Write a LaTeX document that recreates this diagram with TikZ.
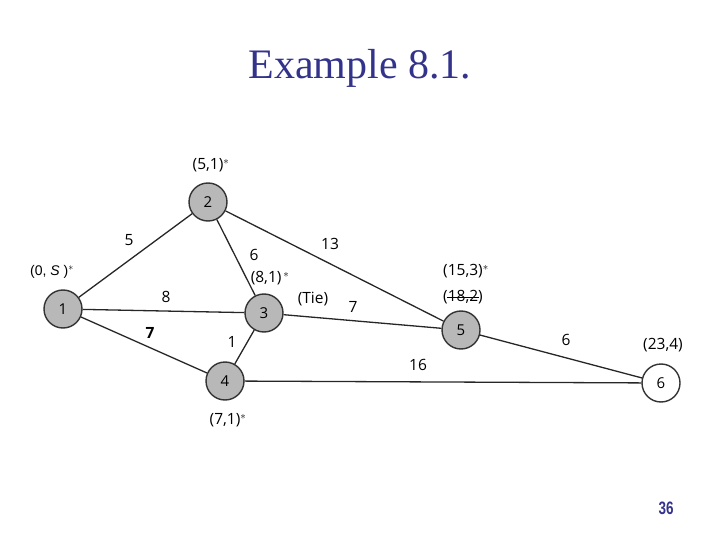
\documentclass[tikz,border=0pt]{standalone}
\usepackage{fontspec}
\setmainfont{Liberation Serif}
\newfontfamily\lab{Open Sans}
\newfontfamily\arl{Liberation Sans}
\definecolor{ttl}{RGB}{51,51,140}
\begin{document}
\begin{tikzpicture}[x=1pt,y=-1pt,
  vert/.style={circle,draw=black!80,line width=1.4pt,fill=black!28,minimum size=38pt,inner sep=0pt,font=\lab\fontsize{15}{15}\selectfont},
  vwhite/.style={vert,fill=white},
  edge/.style={line width=1.3pt,black!85},
  lbl/.style={font=\lab\fontsize{15.5}{15.5}\selectfont,inner sep=0pt}]
\useasboundingbox (0,0) rectangle (720,540);
\node[font=\fontsize{42}{42}\selectfont,text=ttl] (title) at (360,68) {Example 8.1.};
\node[vert] (n1) at (63,309) {1};
\node[vert] (n2) at (208,202) {2};
\node[vert] (n3) at (264,313) {3};
\node[vert] (n4) at (225,381) {4};
\node[vert] (n5) at (461,330) {5};
\node[vwhite] (n6) at (661,383) {6};
\draw[edge] (n1)--(n2); \draw[edge] (n1)--(n3); \draw[edge] (n1)--(n4);
\draw[edge] (n2)--(n3); \draw[edge] (n2)--(n5); \draw[edge] (n3)--(n4);
\draw[edge] (n3)--(n5); \draw[edge] (n4)--(n6); \draw[edge] (n5)--(n6);
\node[lbl] (w12) at (129,240) {5};
\node[lbl] (w13) at (166,297) {8};
\node[lbl] (w14) at (150,333) {\textbf{7}};
\node[lbl] (w23) at (254,255) {6};
\node[lbl] (w25) at (330,244) {13};
\node[lbl] (w34) at (232,342) {1};
\node[lbl] (w35) at (353,307) {7};
\node[lbl] (w46) at (418,365) {16};
\node[lbl] (w56) at (566,340) {6};
\node[lbl] (l2) at (211,165) {(5,1)$^*$};
\node[lbl] (l3) at (270,278) {(8,1)$^{\,*}$};
\node[lbl] (tie) at (313,299) {(Tie)};
\node[lbl] (l5a) at (466,271) {(15,3)$^*$};
\node[lbl] (l5b) at (463,297) {(18,2)};
\draw[line width=0.9pt] ([xshift=4pt]l5b.west) -- ([xshift=-4pt]l5b.east);
\node[lbl] (l6) at (663,345) {(23,4)};
\node[lbl] (l4) at (228,420) {(7,1)$^*$};
\node[font=\arl\fontsize{14}{14}\selectfont,inner sep=0pt] (l1) at (52,272) {(0, \textit{S} )$^*$};
\node[font=\arl\bfseries\fontsize{18}{18}\selectfont,text=ttl,xscale=0.75] (pg) at (666,508) {36};
\end{tikzpicture}
\end{document}
